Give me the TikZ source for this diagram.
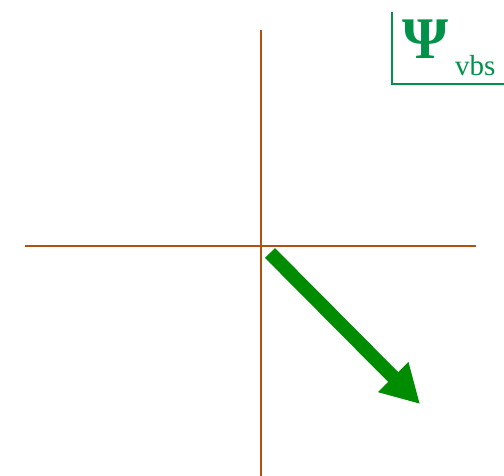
\documentclass[tikz,border=0pt]{standalone}
\usepackage{fontspec}
\setmainfont{Liberation Serif}
\usetikzlibrary{arrows.meta}
\definecolor{axisbrown}{RGB}{178,80,18}
\definecolor{vecgreen}{RGB}{0,140,0}
\definecolor{labelgreen}{RGB}{0,146,72}

\begin{document}
\begin{tikzpicture}[x=1pt, y=-1pt,
  axis/.style={draw=axisbrown, line width=2pt},
  vec/.style={draw=vecgreen, line width=14pt,
              -{Triangle[width=40pt,length=38pt]}},
  frame/.style={draw=labelgreen, line width=2pt},
  lbl/.style={text=labelgreen, inner sep=0pt, anchor=base west},
]
\useasboundingbox (0,0) rectangle (504,476);
% axes
\coordinate (top)   at (261,30);
\coordinate (bot)   at (261,476);
\coordinate (left)  at (25,246);
\coordinate (right) at (476,246);
\draw[axis] (top) -- (bot);
\draw[axis] (left) -- (right);
% vector
\coordinate (vs) at (270,253);
\coordinate (ve) at (420,404);
\draw[vec] (vs) -- (ve);
% label corner
\coordinate (lt) at (392,12);
\coordinate (lc) at (392,84);
\coordinate (lr) at (504,84);
\draw[frame] (lt) -- (lc) -- (lr);
\node[lbl, font=\bfseries\fontsize{59}{59}\selectfont] (psi) at (402,59) {Ψ};
\node[lbl, font=\fontsize{29}{29}\selectfont] (sub) at (455,76) {vbs};
\end{tikzpicture}
\end{document}
